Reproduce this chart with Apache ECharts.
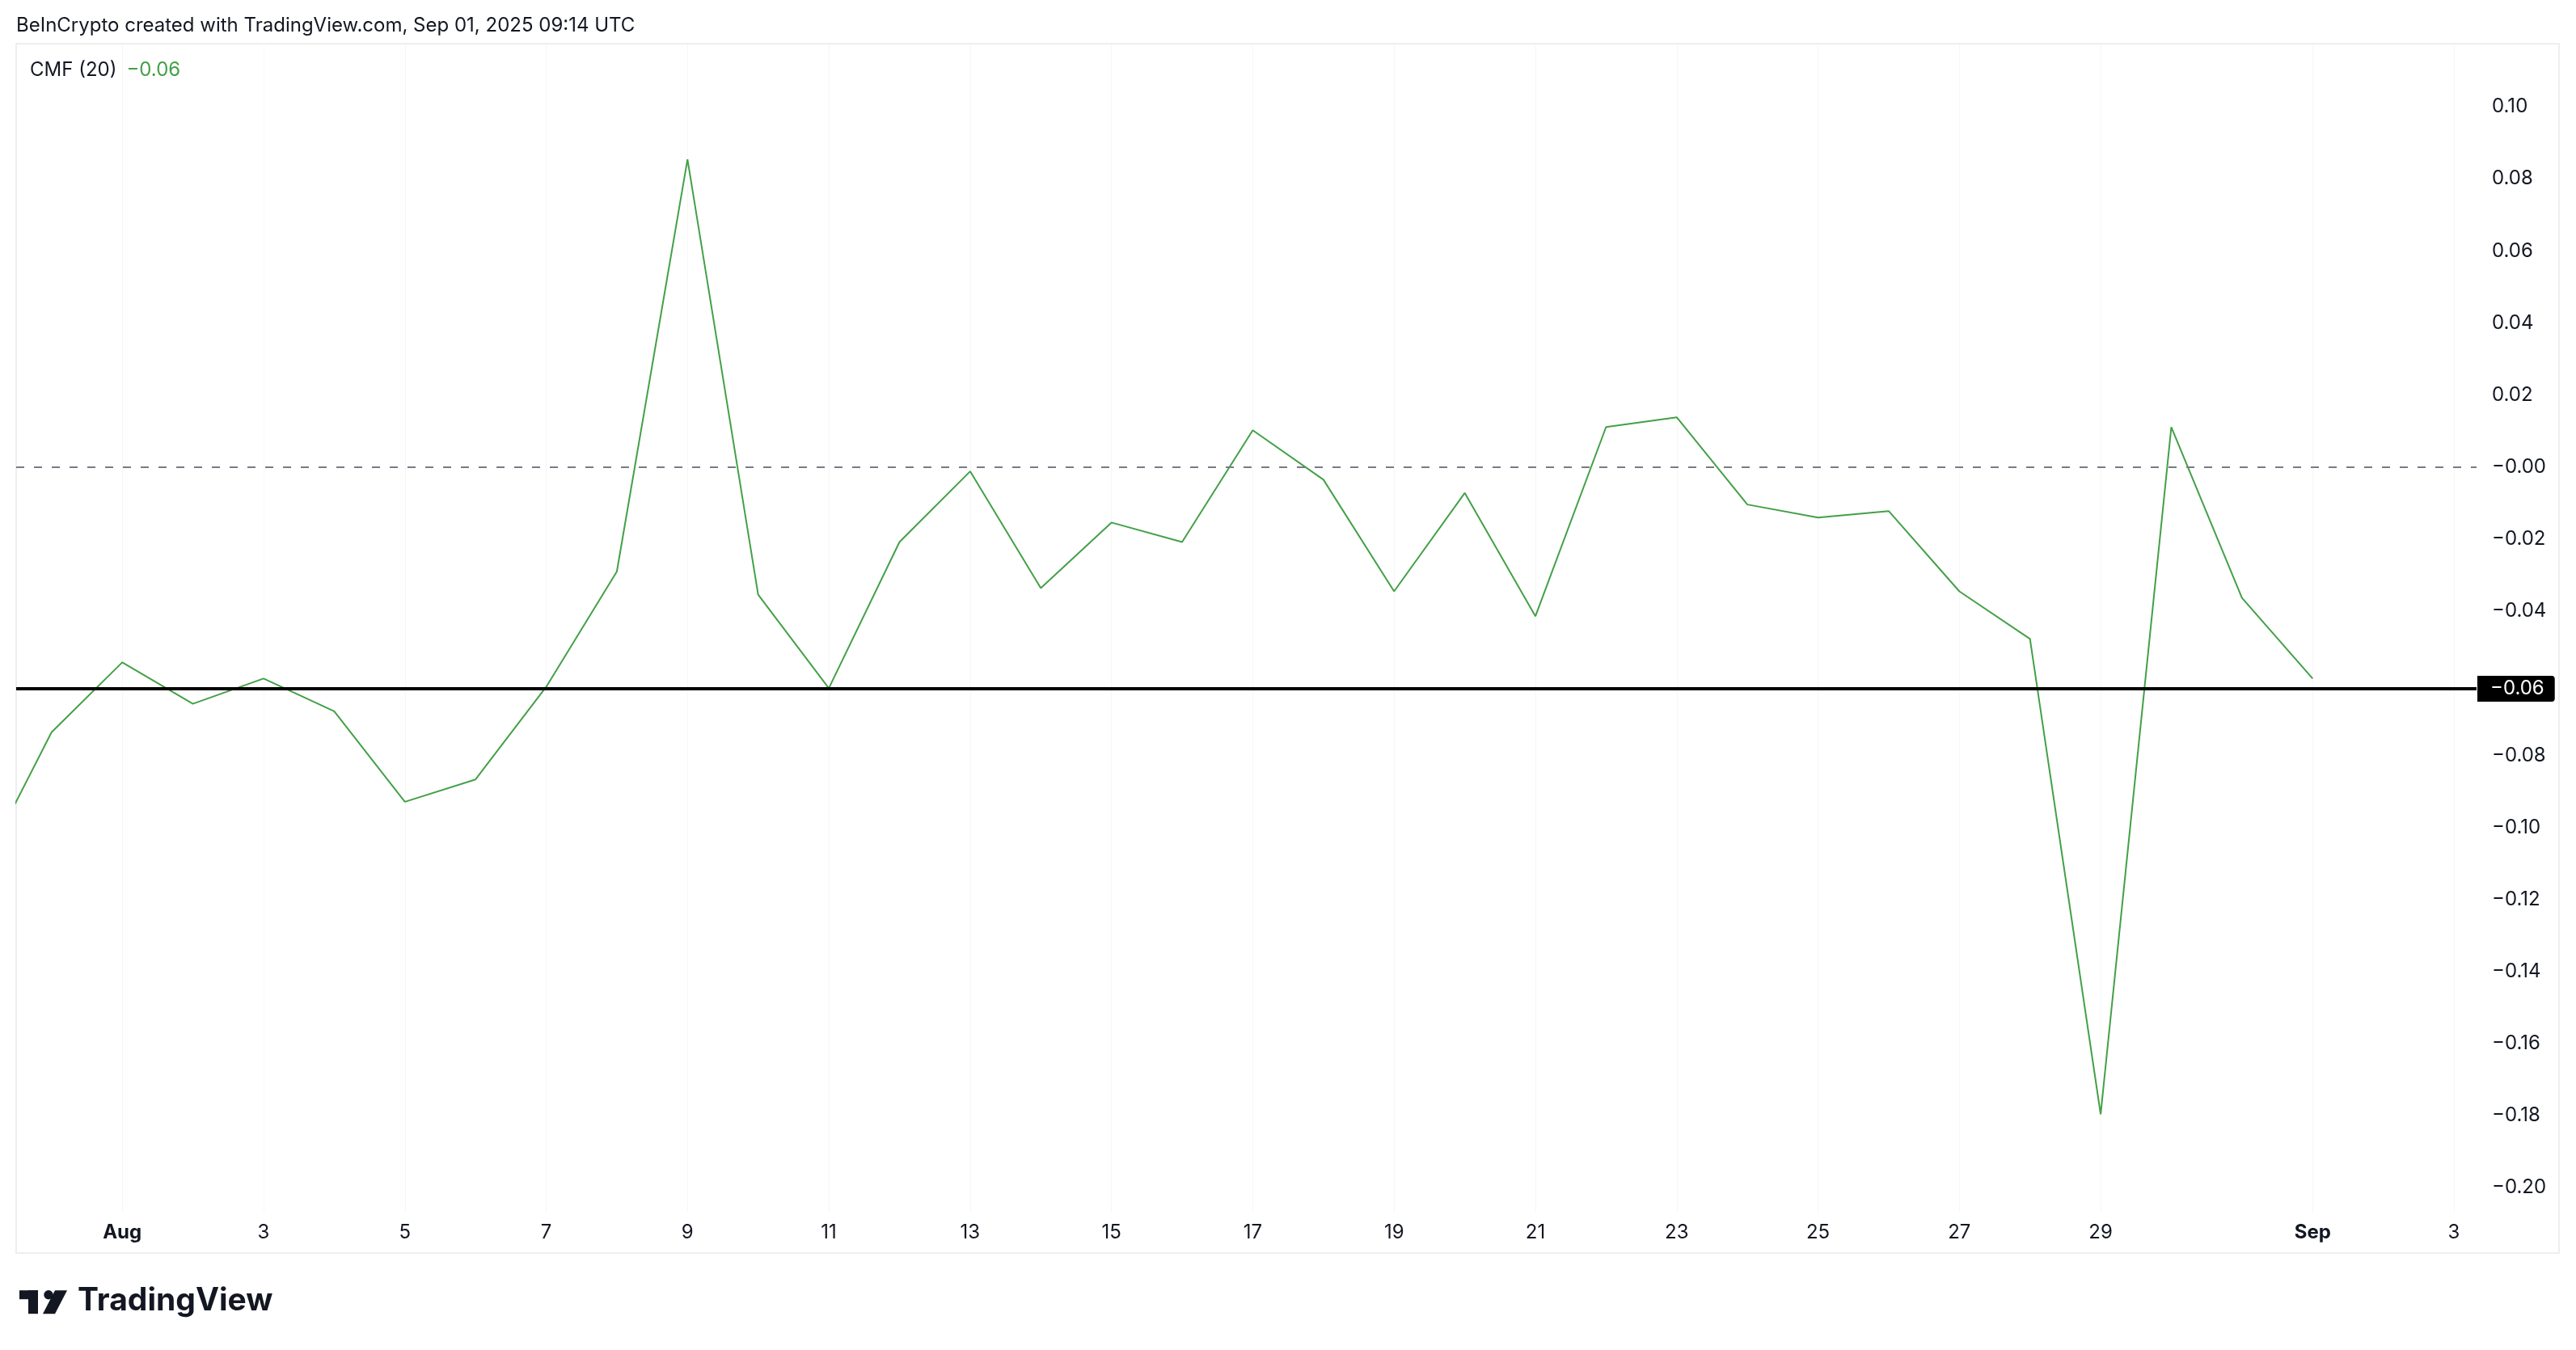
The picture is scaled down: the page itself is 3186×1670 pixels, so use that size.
<!DOCTYPE html>
<html>
<head>
<meta charset="utf-8">
<script src="https://cdn.jsdelivr.net/npm/echarts@6/dist/echarts.min.js"></script>
<style>
html,body{margin:0;padding:0;background:#fff;}
#main{width:3186px;height:1670px;}
</style>
</head>
<body>
<div id="main"></div>
<script>
// ---- data ----
const dates = ['2025-07-30','2025-07-31','2025-08-01','2025-08-02','2025-08-03','2025-08-04','2025-08-05','2025-08-06','2025-08-07','2025-08-08','2025-08-09','2025-08-10','2025-08-11','2025-08-12','2025-08-13','2025-08-14','2025-08-15','2025-08-16','2025-08-17','2025-08-18','2025-08-19','2025-08-20','2025-08-21','2025-08-22','2025-08-23','2025-08-24','2025-08-25','2025-08-26','2025-08-27','2025-08-28','2025-08-29','2025-08-30','2025-08-31','2025-09-01'];
const cmfValues = [-0.112,-0.0736,-0.0542,-0.0657,-0.0587,-0.0678,-0.0929,-0.0867,-0.061,-0.029,0.0854,-0.0354,-0.0614,-0.0208,-0.0012,-0.0336,-0.0154,-0.0208,0.0102,-0.0035,-0.0345,-0.0072,-0.0414,0.0111,0.0138,-0.0104,-0.014,-0.0122,-0.0345,-0.0477,-0.1796,0.0111,-0.0363,-0.0587];
const xTickDates = ['2025-08-01','2025-08-03','2025-08-05','2025-08-07','2025-08-09','2025-08-11','2025-08-13','2025-08-15','2025-08-17','2025-08-19','2025-08-21','2025-08-23','2025-08-25','2025-08-27','2025-08-29','2025-09-01','2025-09-03'];
const xTickLabels = ['Aug','3','5','7','9','11','13','15','17','19','21','23','25','27','29','Sep','3'];
const yTicks = [0.10,0.08,0.06,0.04,0.02,0.00,-0.02,-0.04,-0.08,-0.10,-0.12,-0.14,-0.16,-0.18,-0.20];
const levelLine = -0.0615;
const zeroLine = 0;
const indicatorName = 'CMF (20)';
const headerText = 'BeInCrypto created with TradingView.com, Sep 01, 2025 09:14 UTC';

// ---- helpers ----
const base = Date.UTC(2025,6,31);
function dayIdx(s){const p=s.split('-').map(Number);return Math.round((Date.UTC(p[0],p[1]-1,p[2])-base)/86400000);}
function fmt(v){const a=Math.abs(v).toFixed(2);return (v<=1e-9?'\u2212':'')+a;}
const tickDays = xTickDates.map(dayIdx);
const seriesData = dates.map((d,i)=>[dayIdx(d), cmfValues[i]]);
const lastVal = cmfValues[cmfValues.length-1];

const FONT = 'Inter, "Noto Sans", sans-serif';
const GREEN = '#43a047';

const chart = echarts.init(document.getElementById('main'), null, {renderer:'canvas'});
chart.setOption({
  animation:false,
  backgroundColor:'#ffffff',
  textStyle:{fontFamily:FONT},
  grid:{left:20, top:54, width:3043, height:1446, containLabel:false},
  xAxis:{
    type:'value', min:-0.5013, max:34.32,
    axisLine:{show:false}, axisTick:{show:false, customValues:tickDays},
    splitLine:{show:true, lineStyle:{color:'#f6f6f6', width:1}},
    axisLabel:{
      customValues:tickDays, margin:13, fontSize:24, color:'#131722', fontFamily:FONT,
      formatter:function(v){const i=tickDays.indexOf(Math.round(v));const t=i>=0?xTickLabels[i]:'';return /^[A-Za-z]/.test(t)?'{b|'+t+'}':t;},
      rich:{b:{fontWeight:'bold', fontSize:24, color:'#131722', fontFamily:FONT}}
    }
  },
  yAxis:{
    type:'value', position:'right', min:-0.2069, max:0.1175,
    axisLine:{show:false}, axisTick:{show:false}, splitLine:{show:false},
    axisLabel:{customValues:yTicks, margin:19, fontSize:24, color:'#131722', fontFamily:FONT, formatter:fmt, padding:[4,0,0,0]}
  },
  series:[{
    type:'line', data:seriesData, symbol:'none', clip:true,
    lineStyle:{color:GREEN, width:2}, z:3,
    markLine:{
      silent:true, symbol:'none', animation:false, precision:4,
      data:[
        {yAxis:zeroLine, lineStyle:{type:[10,12], color:'#787b86', width:2}, label:{show:false}},
        {yAxis:levelLine, lineStyle:{type:'solid', color:'#000000', width:4},
         label:{show:true, position:'end', distance:1, formatter:function(p){return fmt(p.value);},
           backgroundColor:'#000000', color:'#ffffff', fontSize:24, fontFamily:FONT,
           padding:[4,13,4,16], borderRadius:[0,4,4,0]}}
      ]
    }
  }],
  graphic:[
    {type:'rect', shape:{x:20, y:54, width:3145, height:1496}, style:{fill:'none', stroke:'#eeeeee', lineWidth:2}, silent:true, z:-1},
    {type:'text', left:20, top:20, style:{text:headerText, font:'24px '+FONT, fill:'#131722'}},
    {type:'text', left:37, top:75, style:{
      text:'{a|'+indicatorName+'}{v|'+fmt(lastVal)+'}',
      rich:{a:{fontSize:24, fontFamily:FONT, fill:'#131722', color:'#131722', padding:[0,12,0,0]}, v:{fontSize:24, fontFamily:FONT, color:GREEN, fill:GREEN}}
    }},
    // TradingView logo
    {type:'group', left:24, top:1596, children:[
      {type:'rect', shape:{x:0, y:0, width:23, height:11}, style:{fill:'#131722'}},
      {type:'rect', shape:{x:11, y:0, width:12, height:29}, style:{fill:'#131722'}},
      {type:'circle', shape:{cx:36, cy:5.5, r:5.7}, style:{fill:'#131722'}},
      {type:'polygon', shape:{points:[[44,0],[59,0],[44,29],[29,29]]}, style:{fill:'#131722'}}
    ]},
    {type:'text', left:96, top:1590, style:{text:'TradingView', font:'bold 39px '+FONT, fill:'#131722'}}
  ]
});
</script>
</body>
</html>
